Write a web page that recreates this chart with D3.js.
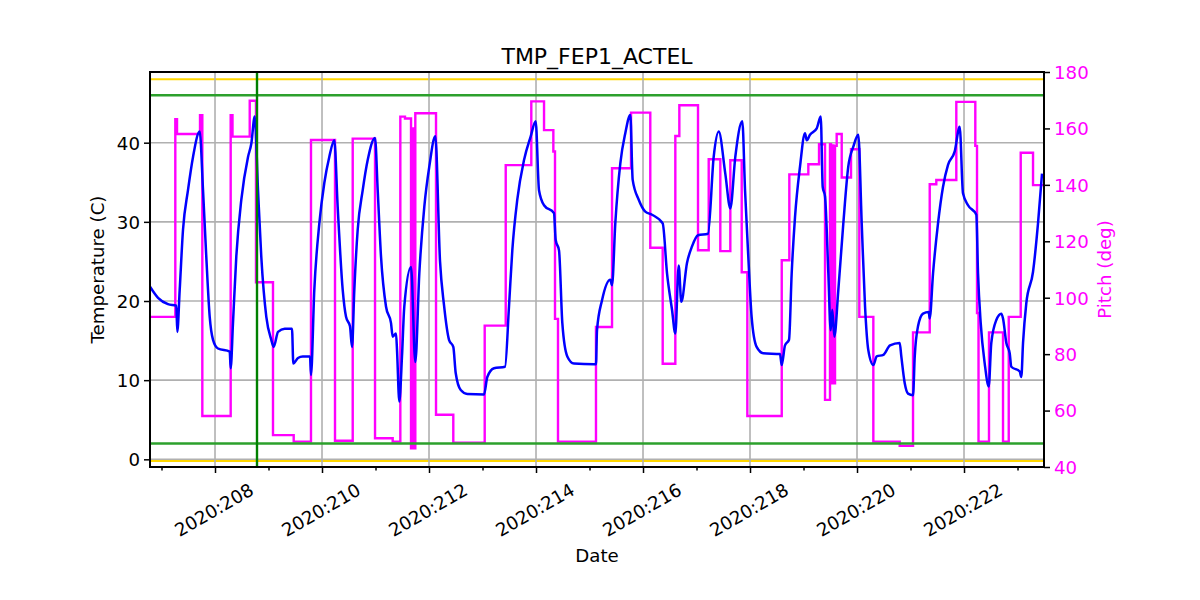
<!DOCTYPE html>
<html>
<head>
<meta charset="utf-8">
<script src="https://cdn.jsdelivr.net/npm/d3@7"></script>
<style>
  html, body { margin: 0; padding: 0; background: #fff; }
  svg { display: block; font-family: "DejaVu Sans", sans-serif; }
</style>
</head>
<body>
<svg id="chart" width="1200" height="600"></svg>
<script>
// ---------- data (day-of-year 2020, fractional) ----------
const tempDays = [206.785,206.935,207.121,207.277,207.295,207.340,207.402,207.495,207.589,207.714,
  207.776,207.837,207.901,207.963,208.056,208.275,208.293,208.336,208.398,208.492,208.617,208.679,208.742,
  208.804,208.865,208.959,209.052,209.097,209.178,209.303,209.439,209.464,209.551,209.639,209.776,209.794,
  209.856,209.950,210.043,210.136,210.230,210.293,210.387,210.449,210.523,210.561,210.604,210.667,210.761,
  210.854,210.991,211.041,211.103,211.196,211.290,211.321,211.383,211.402,211.445,211.495,211.538,211.664,
  211.744,211.819,211.912,212.006,212.118,212.206,212.280,212.374,212.454,212.499,212.593,212.716,213.028,
  213.090,213.215,213.421,213.495,213.557,213.650,213.776,213.901,213.994,214.056,214.150,214.336,214.368,
  214.430,214.492,214.585,214.710,215.084,215.121,215.140,215.234,215.389,215.421,215.482,215.576,215.669,
  215.763,215.807,215.920,216.043,216.168,216.368,216.449,216.542,216.604,216.667,216.716,216.822,216.916,
  217.028,217.215,217.321,217.415,217.538,217.632,217.725,217.856,217.907,217.968,218.030,218.124,218.248,
  218.561,218.592,218.654,218.729,218.779,218.841,218.935,219.028,219.060,219.121,219.247,219.322,219.359,
  219.402,219.464,219.508,219.538,219.576,219.651,219.744,219.837,219.931,220.024,220.088,220.150,220.211,
  220.305,220.368,220.492,220.617,220.798,220.828,220.892,220.953,221.047,221.079,221.140,221.234,221.340,
  221.359,221.421,221.514,221.607,221.701,221.826,221.919,221.981,222.075,222.230,222.262,222.312,222.387,
  222.462,222.510,222.604,222.697,222.729,222.791,222.854,222.884,223.041,223.071,223.103,223.164,223.290,
  223.383,223.458];
const tempValues = [21.8,20.4,19.6,19.4,16.1,21.4,29,34,38.2,41.4,
  34,25.6,18,15.1,14.0,13.6,11.5,17.2,25.6,32.8,38.2,39.9,43.3,
  34,25.6,18,15.1,14.2,16.1,16.5,16.5,12.1,12.8,13.0,13.0,10.65,
  21.4,29.8,34.9,38.2,40.3,31.9,21.4,18.0,16.8,14.2,21.4,29,34,
  37.8,40.6,34,25.6,19.3,17.2,15.5,15.9,13.8,7.3,13,19.3,24.3,
  12.3,23.5,31.9,37,40.8,25,19.5,15.1,14.2,10.9,8.75,8.25,8.2,
  10.4,11.5,11.7,19.3,26.4,32.8,37.8,40.8,42.7,34.0,32.1,31.1,27.7,
  26.4,17.2,13,12.1,12.0,12.0,16.3,20.1,22.7,22.0,29.8,37.4,41.2,
  43.5,35.3,32.8,31.3,30.9,29.8,23.5,18.9,15.9,24.5,19.9,24.8,26.9,
  28.3,28.5,38.2,41.4,36.1,31.7,38.2,42.7,34,25.6,18,14.2,13.4,
  13.3,11.9,14.4,15.1,23.5,30.6,37,41.2,40.3,41,41.8,43.3,34.4,
  33.2,23.5,16.3,18.9,15.5,21.4,29.8,37,39.5,41.0,29.8,19.3,13.8,
  11.9,13,13.2,14.4,14.7,13,9.6,8.3,8.1,13,16.8,18.4,18.6,
  17.8,23.5,29.8,34.4,37.2,38.9,42.0,33.6,32.1,30.9,23.5,17.2,12.1,
  9.2,14.7,17.6,18.4,17.8,14.7,13.4,11.7,11.1,10.4,14.7,19.7,23.7,
  29.8,36.1];

// pitch: step values, each holds until the next day
const pitchDays = [206.785,207.258,207.290,207.720,207.763,208.293,208.327,208.649,208.766,209.084,
  209.471,209.794,210.243,210.574,210.991,211.321,211.464,211.551,211.664,211.692,211.710,211.744,
  212.131,212.454,213.041,213.434,213.912,214.150,214.324,214.355,214.411,215.121,215.421,215.776,
  216.136,216.368,216.604,216.679,217.028,217.228,217.445,217.632,217.845,217.950,218.593,218.735,
  219.090,219.290,219.402,219.495,219.514,219.542,219.561,219.589,219.620,219.714,219.888,220.043,
  220.305,220.798,221.047,221.359,221.482,221.856,222.211,222.243,222.271,222.467,222.729,222.836,
  223.060,223.290,223.495];
const pitchValues = [93.2,163.3,158.0,164.7,58.1,164.7,157.1,169.8,105.5,51.3,
  49.0,155.9,49.3,156.4,50.2,49.0,164.2,163.5,46.6,160,46.6,165.4,
  58.5,48.6,90.1,147.0,169.6,159.4,151.8,92.5,49.0,89.6,145.9,165.6,
  117.7,76.6,157.3,168.2,116.8,149.1,116.5,148.7,109.0,58.1,113.3,143.7,
  147.3,154.4,63.8,154.4,69.7,154,69.7,153.8,158.0,142.6,152.6,93.2,
  49.0,47.5,87.7,140.2,141.7,169.4,153.8,94.6,49.0,87.7,49.0,93.2,
  151.4,139.9,139.9];

const yellowLimits = [48, -0.2];
const greenLimits = [46, 2];
const markerDay = 208.785;

const xMajorTicks = [208,210,212,214,216,218,220,222];
const xMinorTicks = [207,209,211,213,215,217,219,221,223];
const xTickLabels = ["2020:208","2020:210","2020:212","2020:214","2020:216","2020:218","2020:220","2020:222"];
const tempTicks = [0,10,20,30,40];
const pitchTicks = [40,60,80,100,120,140,160,180];

// ---------- layout ----------
const L = 150, R = 1044, T = 72, B = 467;
const svg = d3.select("#chart");
const FS = 18.2;

const x = d3.scaleLinear().domain([206.785, 223.495]).range([L, R]);
const yT = d3.scaleLinear().domain([-0.97, 48.93]).range([B, T]);
const yP = d3.scaleLinear().domain([40, 180]).range([B, T]);

svg.append("defs").append("clipPath").attr("id","clip")
  .append("rect").attr("x", L).attr("y", T).attr("width", R-L).attr("height", B-T);

const plot = svg.append("g").attr("clip-path", "url(#clip)");

// limit lines (yellow under grid)
yellowLimits.forEach(v => plot.append("line").attr("x1", L).attr("x2", R)
  .attr("y1", yT(v)).attr("y2", yT(v)).attr("stroke", "#ffd700").attr("stroke-width", 2));

// grid
const grid = svg.append("g").attr("stroke", "#b0b0b0").attr("stroke-width", 1.6);
xMajorTicks.forEach(d => grid.append("line").attr("x1", x(d)).attr("x2", x(d)).attr("y1", T).attr("y2", B));
tempTicks.forEach(d => grid.append("line").attr("x1", L).attr("x2", R).attr("y1", yT(d)).attr("y2", yT(d)));

const plot2 = svg.append("g").attr("clip-path", "url(#clip)");

// pitch (magenta step line)
const pitchData = pitchDays.map((d, i) => [d, pitchValues[i]]);
plot2.append("path").datum(pitchData)
  .attr("fill", "none").attr("stroke", "#ff00ff").attr("stroke-width", 2.4)
  .attr("d", d3.line().x(d => x(d[0])).y(d => yP(d[1])).curve(d3.curveStepAfter));

// temperature (blue)
const tempData = tempDays.map((d, i) => [d, tempValues[i]]);
plot2.append("path").datum(tempData)
  .attr("fill", "none").attr("stroke", "#0000ff").attr("stroke-width", 2.5)
  .attr("stroke-linejoin", "round")
  .attr("d", d3.line().x(d => x(d[0])).y(d => yT(d[1])).curve(d3.curveMonotoneX));

greenLimits.forEach(v => plot2.append("line").attr("x1", L).attr("x2", R)
  .attr("y1", yT(v)).attr("y2", yT(v)).attr("stroke", "#2ca02c").attr("stroke-width", 2.4));
plot2.append("line").attr("x1", x(markerDay)).attr("x2", x(markerDay)).attr("y1", T).attr("y2", B)
  .attr("stroke", "#008000").attr("stroke-width", 2.4);

// axes
const axB = svg.append("g").attr("transform", `translate(0,${B})`)
  .call(d3.axisBottom(x).tickValues(xMajorTicks).tickSize(6).tickFormat(""));
const axBm = svg.append("g").attr("transform", `translate(0,${B})`)
  .call(d3.axisBottom(x).tickValues(xMinorTicks).tickSize(3.5).tickFormat(""));
const axL = svg.append("g").attr("transform", `translate(${L},0)`)
  .call(d3.axisLeft(yT).tickValues(tempTicks).tickSize(6).tickPadding(4).tickFormat(d3.format("d")));
const axR = svg.append("g").attr("transform", `translate(${R},0)`)
  .call(d3.axisRight(yP).tickValues(pitchTicks).tickSize(6).tickPadding(4).tickFormat(d3.format("d")));

[axB, axBm, axL, axR].forEach(g => {
  g.select(".domain").remove();
  g.selectAll(".tick line").attr("stroke", "#000").attr("stroke-width", 1.5);
  g.selectAll("text").attr("font-size", FS).attr("font-family", "DejaVu Sans");
});
axL.selectAll("text").attr("fill", "#000").attr("dy", "0.35em");
axR.selectAll("text").attr("fill", "#ff00ff").attr("dy", "0.35em");

// x tick labels rotated 30 deg, centred
const xl = svg.append("g");
xMajorTicks.forEach((d, i) => {
  xl.append("text")
    .attr("transform", `translate(${x(d) - 1},510) rotate(-30)`)
    .attr("text-anchor", "middle").attr("dy", "0.35em")
    .attr("font-size", FS).attr("fill", "#000")
    .text(xTickLabels[i]);
});

// frame
svg.append("rect").attr("x", L).attr("y", T).attr("width", R-L).attr("height", B-T)
  .attr("fill", "none").attr("stroke", "#000").attr("stroke-width", 2);

// labels
svg.append("text").attr("x", (L+R)/2).attr("y", 64).attr("text-anchor", "middle")
  .attr("font-size", 22).attr("fill", "#000").text("TMP_FEP1_ACTEL");
svg.append("text").attr("x", (L+R)/2).attr("y", 556).attr("dy", "0.35em").attr("text-anchor", "middle")
  .attr("font-size", FS).attr("fill", "#000").text("Date");
svg.append("text").attr("transform", `translate(98,${(T+B)/2}) rotate(-90)`)
  .attr("text-anchor", "middle").attr("dy", "0.35em")
  .attr("font-size", FS).attr("fill", "#000").text("Temperature (C)");
svg.append("text").attr("transform", `translate(1105,${(T+B)/2}) rotate(-90)`)
  .attr("text-anchor", "middle").attr("dy", "0.35em")
  .attr("font-size", FS).attr("fill", "#ff00ff").text("Pitch (deg)");
</script>
</body>
</html>
